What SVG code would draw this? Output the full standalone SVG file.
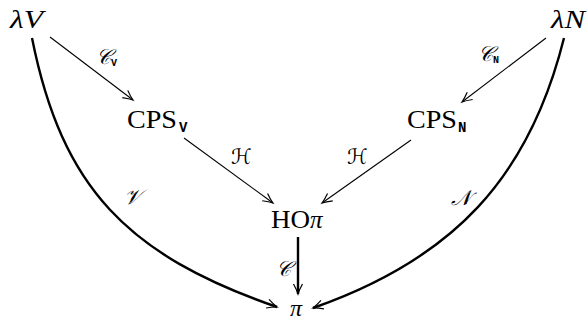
<svg xmlns="http://www.w3.org/2000/svg" width="587" height="322" viewBox="0 0 587 322">
<style>
text{fill:#000}
.t{font-family:'Liberation Serif','Times New Roman',serif;font-size:25px}
.i{font-style:italic}
.s{font-family:'Liberation Mono','Courier New',monospace;font-size:14px;font-weight:bold}
.ss{font-family:'Liberation Mono','Courier New',monospace;font-size:10px;font-weight:bold}
.m{font-family:'DejaVu Serif','DejaVu Sans',serif;font-size:21px;font-style:italic}
.thin{fill:none;stroke:#000;stroke-width:1.1;marker-end:url(#ah)}
.thick{fill:none;stroke:#000;stroke-width:2.4;marker-end:url(#ah)}
</style>
<defs>
<marker id="ah" markerUnits="userSpaceOnUse" markerWidth="16" markerHeight="12" viewBox="-12 -6 14 12" refX="0" refY="0" orient="auto" overflow="visible">
<path d="M-10,-4.5 Q-4,-1.2 0,0 Q-4,1.2 -10,4.5" fill="none" stroke="#000" stroke-width="1.2"/>
</marker>
</defs>
<g id="connectors">
<path class="thin" d="M50,37 L133,100"/>
<path class="thin" d="M546,38 L462,102"/>
<path class="thin" d="M184,138 L273,203"/>
<path class="thin" d="M411,140 L322,203"/>
<path class="thick" d="M298,237 L298,294"/>
<path class="thick" d="M32,38 C62,188 127,255 277,307"/>
<path class="thick" d="M564,38 C529,178 453,259 313,308"/>
</g>
<g id="lambdaV"><text class="t i" x="10" y="28" textLength="33" lengthAdjust="spacingAndGlyphs">λV</text></g>
<g id="lambdaN"><text class="t i" x="551" y="28" textLength="34" lengthAdjust="spacingAndGlyphs">λN</text></g>
<g id="CPSV"><text class="t" x="127" y="128" textLength="50" lengthAdjust="spacingAndGlyphs">CPS</text><text class="s" x="179" y="132">V</text></g>
<g id="CPSN"><text class="t" x="407" y="128" textLength="50" lengthAdjust="spacingAndGlyphs">CPS</text><text class="s" x="458" y="132">N</text></g>
<g id="HOpi"><text class="t" x="271" y="228" textLength="39" lengthAdjust="spacingAndGlyphs">HO</text><text class="t i" x="310" y="228">π</text></g>
<g id="pi"><text class="t i" x="290" y="316" style="font-size:24px">π</text></g>
<g id="labels">
<text class="m" x="96" y="64">𝒞</text><text class="ss" x="111" y="66">V</text>
<text class="m" x="478" y="61">𝒞</text><text class="ss" x="493" y="63">N</text>
<text class="m" x="231" y="164">ℋ</text>
<text class="m" x="347" y="164">ℋ</text>
<text class="m" x="124" y="204">𝒱</text>
<text class="m" x="451" y="205">𝒩</text>
<text class="m" x="276" y="276">𝒞</text>
</g>
</svg>
